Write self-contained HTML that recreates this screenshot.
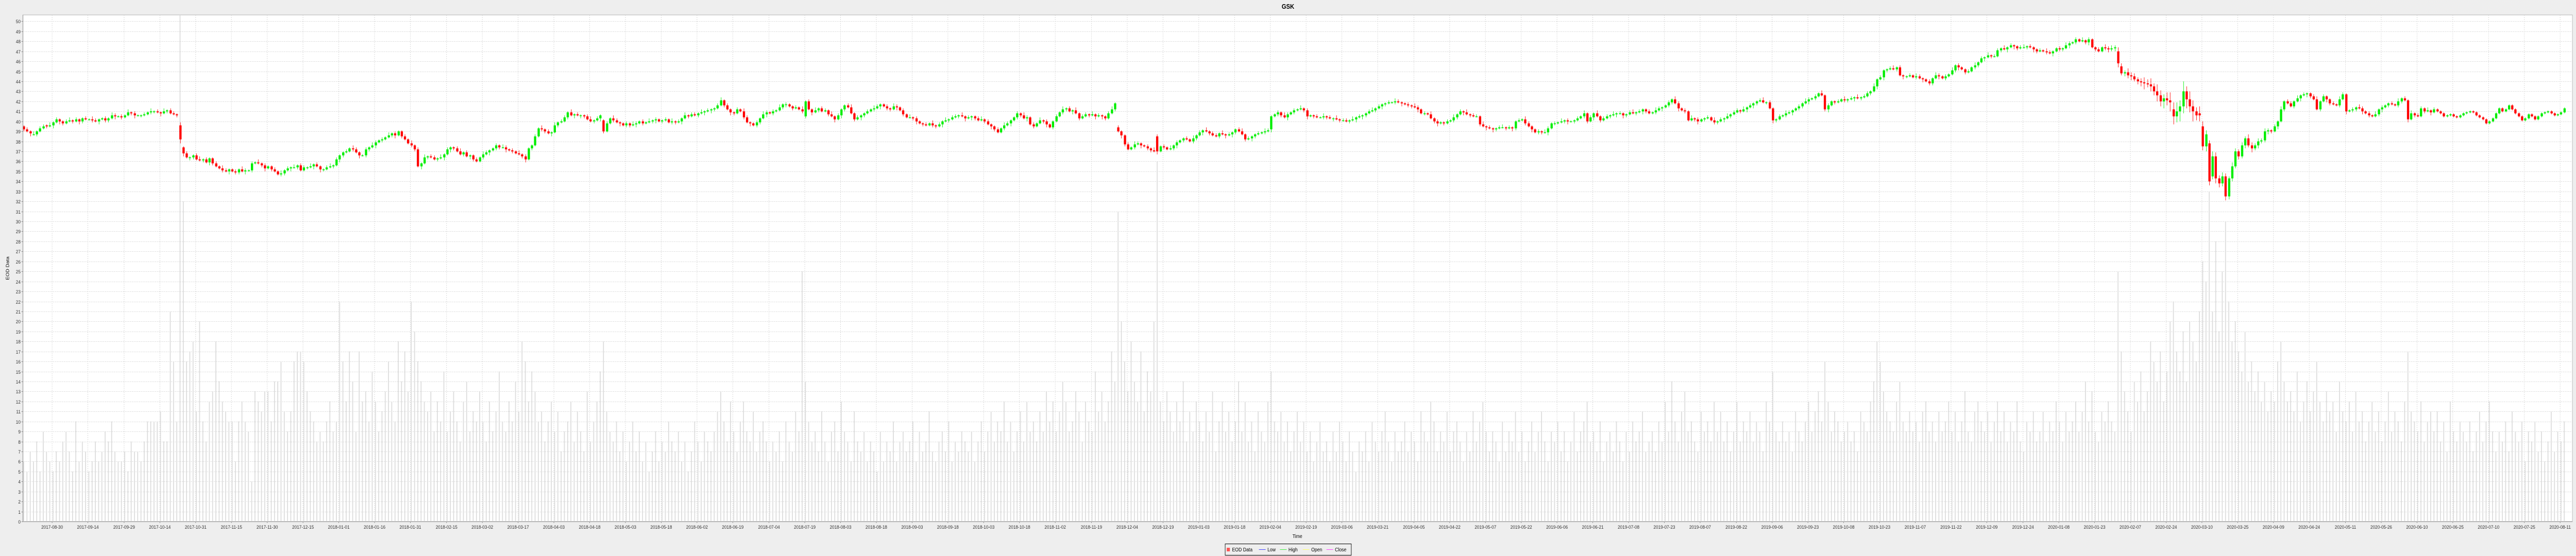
<!DOCTYPE html>
<html><head><meta charset="utf-8"><title>GSK</title>
<style>
html,body{margin:0;padding:0;background:#eeeeee;width:100%;height:100%;overflow:hidden;}
svg{display:block;position:absolute;left:0;top:0;width:100vw;height:100vh;font-family:"Liberation Sans",Arial,sans-serif;}
</style></head>
<body>
<svg id="chart" xmlns="http://www.w3.org/2000/svg" viewBox="0 0 5760 1080" preserveAspectRatio="none">
<rect x="0" y="0" width="5760" height="1080" fill="#eeeeee"/>
<text x="2880" y="17" text-anchor="middle" font-size="13" font-weight="bold" fill="#000">GSK</text>
<rect x="51" y="29" width="5701" height="984" fill="#ffffff" stroke="#b4b4b4" stroke-width="1"/>
<g id="grid"></g>
<g id="vol"></g>
<g id="candles"></g>
<g id="axes"></g>
<text x="20" y="521" text-anchor="middle" font-size="10" fill="#000" transform="rotate(-90 20 521)">EOD Data</text>
<text x="2901" y="1045" text-anchor="middle" font-size="10" fill="#000">Time</text>
<g>
<rect x="2739.5" y="1056.5" width="282" height="22" fill="#eeeeee" stroke="#000" stroke-width="1"/>
<rect x="2743" y="1064" width="7" height="7" fill="#ff5555"/>
<text x="2755" y="1071" font-size="10">EOD Data</text>
<line x1="2815" y1="1067.5" x2="2830" y2="1067.5" stroke="#4444ff"/>
<text x="2834" y="1071" font-size="10">Low</text>
<line x1="2862" y1="1067.5" x2="2877" y2="1067.5" stroke="#44ee44"/>
<text x="2881" y="1071" font-size="10">High</text>
<line x1="2913" y1="1067.5" x2="2928" y2="1067.5" stroke="#ffff66"/>
<text x="2932" y="1071" font-size="10">Open</text>
<line x1="2966" y1="1067.5" x2="2981" y2="1067.5" stroke="#ff44ff"/>
<text x="2985" y="1071" font-size="10">Close</text>
</g>
</svg>
<script>
const closes=[
39.2,39.0,38.8,38.7,39.0,39.3,39.5,39.5,39.6,39.9,
40.2,40.0,39.8,40.0,40.1,40.0,40.2,40.0,40.3,40.2,
40.2,40.1,40.0,40.2,40.3,40.1,40.3,40.6,40.5,40.5,
40.4,40.6,40.9,40.8,40.6,40.6,40.6,40.7,40.9,41.0,
41.0,40.9,40.8,41.0,41.1,40.8,40.7,40.6,38.2,36.8,
36.4,36.4,36.6,36.2,36.1,36.2,35.9,36.3,35.8,35.5,
35.3,35.1,35.0,35.2,35.0,34.9,35.2,35.0,35.1,35.1,
35.8,35.9,35.8,35.6,35.3,35.5,35.2,35.0,34.7,34.8,
35.1,35.3,35.4,35.4,35.6,35.1,35.4,35.4,35.5,35.7,
35.5,35.2,35.2,35.4,35.5,35.6,36.2,36.6,36.9,37.0,
37.3,37.2,36.9,36.6,36.6,37.2,37.4,37.6,37.9,38.1,
38.2,38.4,38.6,38.8,38.6,39.0,38.5,38.2,37.8,37.6,
37.2,35.5,35.8,36.4,36.5,36.4,36.2,36.3,36.4,36.7,
37.2,37.4,37.3,37.0,36.7,36.9,36.5,36.6,36.2,36.0,
36.4,36.7,36.9,37.1,37.3,37.6,37.4,37.4,37.2,37.1,
37.0,36.8,36.7,36.5,36.2,37.3,37.6,38.5,39.3,39.2,
39.0,38.8,38.9,39.6,39.9,40.0,40.4,40.9,40.6,40.7,
40.6,40.6,40.5,40.2,40.0,40.1,40.3,40.6,39.0,39.8,
40.3,40.1,39.9,39.8,39.6,39.8,39.6,39.7,39.8,40.0,
39.8,39.9,40.0,40.1,40.2,40.0,40.1,40.2,39.9,40.0,
39.9,40.0,40.3,40.6,40.5,40.7,40.6,40.8,40.9,41.0,
41.1,41.2,41.3,41.6,42.1,41.6,41.2,40.9,40.8,41.2,
41.0,40.4,39.9,39.8,39.6,39.9,40.3,40.7,40.9,40.8,
41.0,41.1,41.4,41.7,41.7,41.5,41.3,41.4,41.2,41.0,
42.0,41.2,40.9,41.1,41.3,41.0,41.1,40.7,40.5,40.2,
40.6,41.2,41.6,41.4,40.8,40.2,40.4,40.6,40.8,41.0,
41.2,41.3,41.5,41.7,41.5,41.3,41.2,41.5,41.4,41.1,
40.7,40.4,40.4,40.3,40.0,39.8,39.7,39.6,39.8,39.6,
39.5,39.7,40.0,40.1,40.2,40.4,40.5,40.6,40.5,40.3,
40.4,40.5,40.3,40.1,40.2,40.0,39.7,39.5,39.2,38.9,
39.3,39.6,39.8,40.1,40.4,40.8,40.6,40.3,40.4,39.7,
39.5,39.8,40.1,40.0,39.7,39.4,40.0,40.5,40.9,41.2,
41.3,41.0,41.1,40.8,40.3,40.5,40.7,40.6,40.7,40.5,
40.6,40.5,40.3,40.8,41.2,41.8,39.0,38.6,37.7,37.2,
37.4,37.7,37.8,37.6,37.5,37.3,37.1,37.0,37.0,37.5,
37.4,37.2,37.3,37.6,37.9,38.1,38.3,38.2,38.0,38.3,
38.6,38.9,39.1,39.0,38.8,38.6,38.5,38.8,38.7,38.6,
38.7,38.9,39.2,39.0,38.7,38.2,38.3,38.5,38.7,38.8,
38.9,39.0,39.1,40.5,40.7,40.9,40.6,40.4,40.7,40.9,
41.1,41.2,41.3,41.1,40.5,40.6,40.5,40.4,40.4,40.5,
40.4,40.3,40.3,40.2,40.1,40.1,40.0,40.1,40.2,40.4,
40.5,40.6,40.8,41.0,41.1,41.3,41.5,41.7,41.8,41.9,
41.9,42.0,41.9,41.8,41.7,41.6,41.5,41.4,41.2,40.8,
40.8,40.7,40.3,40.0,39.8,39.9,39.8,40.0,40.1,40.4,
40.7,41.0,40.9,40.7,40.6,40.5,40.5,39.7,39.5,39.4,
39.3,39.2,39.3,39.4,39.4,39.3,39.4,39.3,40.0,40.1,
40.2,39.8,39.5,39.2,38.9,39.0,38.9,38.9,39.3,39.8,
39.8,39.9,40.0,40.1,40.0,40.0,40.1,40.3,40.5,40.8,
40.0,40.4,40.8,40.5,40.1,40.3,40.5,40.6,40.7,40.8,
40.8,40.6,40.7,40.9,40.8,40.9,41.0,41.2,41.0,40.8,
40.9,41.1,41.3,41.4,41.6,41.9,42.2,41.8,41.3,41.1,
41.0,40.1,40.3,40.2,40.0,40.2,40.3,40.4,40.1,39.9,
40.0,40.2,40.3,40.5,40.7,40.9,41.1,41.0,41.2,41.4,
41.6,41.8,42.0,42.1,41.9,41.9,41.3,40.1,40.2,40.5,
40.6,40.8,40.9,41.1,41.3,41.5,41.8,42.0,42.2,42.3,
42.5,42.8,42.6,41.2,41.6,42.0,41.9,42.0,42.2,42.1,
42.2,42.3,42.4,42.3,42.4,42.5,42.8,43.0,43.5,44.2,
44.4,45.1,45.2,45.3,45.2,45.4,44.6,44.5,44.5,44.6,
44.4,44.5,44.3,44.2,44.0,43.8,44.3,44.6,44.5,44.3,
44.5,44.7,45.1,45.6,45.4,45.2,44.9,45.0,45.4,45.6,
45.9,46.3,46.4,46.6,46.5,46.5,47.1,47.3,47.2,47.4,
47.6,47.5,47.3,47.4,47.4,47.5,47.4,47.2,47.0,47.1,
47.0,46.9,46.8,47.0,47.3,47.2,47.3,47.6,47.8,47.9,
48.2,48.0,48.1,47.9,48.2,47.4,47.2,47.0,47.4,47.3,
47.2,47.3,47.4,45.8,44.8,44.9,44.6,44.5,44.2,44.0,
43.9,43.8,43.7,43.5,43.0,42.6,42.0,42.3,42.1,41.9,
40.5,41.0,41.5,43.0,42.2,41.5,41.0,40.6,40.6,37.5,
38.7,34.0,36.5,34.3,33.8,34.5,32.5,34.3,35.5,37.0,
36.5,37.6,38.3,37.6,37.3,37.6,38.0,38.1,39.0,39.1,
39.0,39.5,40.0,41.2,42.0,41.8,41.5,42.0,42.3,42.6,
42.7,42.8,42.5,42.2,41.2,42.0,42.5,42.2,41.8,41.7,
41.6,42.2,42.7,41.0,41.1,41.2,41.4,41.3,41.0,40.8,
40.6,40.5,40.7,41.2,41.4,41.6,41.8,41.7,41.6,42.0,
42.3,42.1,40.2,40.8,40.6,40.5,41.3,41.0,41.1,40.9,
41.2,41.0,40.8,40.5,40.6,40.7,40.5,40.4,40.6,40.8,
40.9,41.0,40.9,40.6,40.4,40.2,39.8,40.0,40.3,40.8,
41.3,41.0,41.2,41.6,41.2,40.8,40.5,40.1,40.3,40.7,
40.5,40.2,40.5,40.8,40.9,41.0,40.8,40.6,40.7,40.9,
41.3];
const opens=[
39.5,39.2,39.0,38.7,38.7,39.0,39.3,39.6,39.5,39.6,
39.9,40.2,40.0,39.8,40.0,40.1,40.0,40.2,40.0,40.3,
40.2,40.2,40.1,40.0,40.2,40.3,40.1,40.3,40.6,40.5,
40.5,40.4,40.6,40.9,40.8,40.6,40.6,40.6,40.7,40.9,
41.0,41.0,40.9,40.8,41.0,41.1,40.8,40.7,39.6,37.4,
36.8,36.4,36.4,36.6,36.2,36.1,36.2,35.9,36.3,35.8,
35.5,35.3,35.1,35.0,35.2,35.0,34.9,35.2,35.0,35.1,
35.1,35.8,35.9,35.8,35.6,35.3,35.5,35.2,35.0,34.7,
34.8,35.1,35.3,35.4,35.4,35.6,35.1,35.4,35.4,35.5,
35.7,35.5,35.2,35.2,35.4,35.5,35.6,36.2,36.6,36.9,
37.0,37.3,37.2,36.9,36.6,36.6,37.2,37.4,37.6,37.9,
38.1,38.2,38.4,38.6,38.8,38.6,39.0,38.5,38.2,37.8,
37.6,37.2,35.5,35.8,36.4,36.5,36.4,36.2,36.3,36.4,
36.7,37.2,37.4,37.3,37.0,36.7,36.9,36.5,36.6,36.2,
36.0,36.4,36.7,36.9,37.1,37.3,37.6,37.4,37.4,37.2,
37.1,37.0,36.8,36.7,36.5,36.2,37.3,37.6,38.5,39.3,
39.2,39.0,38.8,38.9,39.6,39.9,40.0,40.4,40.9,40.6,
40.7,40.6,40.6,40.5,40.2,40.0,40.1,40.3,40.1,39.0,
39.8,40.3,40.1,39.9,39.8,39.6,39.8,39.6,39.7,39.8,
40.0,39.8,39.9,40.0,40.1,40.2,40.0,40.1,40.2,39.9,
40.0,39.9,40.0,40.3,40.6,40.5,40.7,40.6,40.8,40.9,
41.0,41.1,41.2,41.3,41.6,42.1,41.6,41.2,40.9,40.8,
41.2,41.0,40.4,39.9,39.8,39.6,39.9,40.3,40.7,40.9,
40.8,41.0,41.1,41.4,41.7,41.7,41.5,41.3,41.4,41.2,
40.5,42.0,41.2,40.9,41.1,41.3,41.0,41.1,40.7,40.5,
40.2,40.6,41.2,41.6,41.4,40.8,40.2,40.4,40.6,40.8,
41.0,41.2,41.3,41.5,41.7,41.5,41.3,41.2,41.5,41.4,
41.1,40.7,40.4,40.4,40.3,40.0,39.8,39.7,39.6,39.8,
39.6,39.5,39.7,40.0,40.1,40.2,40.4,40.5,40.6,40.5,
40.3,40.4,40.5,40.3,40.1,40.2,40.0,39.7,39.5,39.2,
38.9,39.3,39.6,39.8,40.1,40.4,40.8,40.6,40.3,40.4,
39.7,39.5,39.8,40.1,40.0,39.7,39.4,40.0,40.5,40.9,
41.2,41.3,41.0,41.1,40.8,40.3,40.5,40.7,40.6,40.7,
40.5,40.6,40.5,40.3,40.8,41.2,39.4,39.0,38.6,37.7,
37.2,37.4,37.7,37.8,37.6,37.5,37.3,37.1,38.5,37.0,
37.5,37.4,37.2,37.3,37.6,37.9,38.1,38.3,38.2,38.0,
38.3,38.6,38.9,39.1,39.0,38.8,38.6,38.5,38.8,38.7,
38.6,38.7,38.9,39.2,39.0,38.7,38.2,38.3,38.5,38.7,
38.8,38.9,39.0,39.2,40.5,40.7,40.9,40.6,40.4,40.7,
40.9,41.1,41.2,41.3,41.1,40.5,40.6,40.5,40.4,40.4,
40.5,40.4,40.3,40.3,40.2,40.1,40.1,40.0,40.1,40.2,
40.4,40.5,40.6,40.8,41.0,41.1,41.3,41.5,41.7,41.8,
41.9,41.9,42.0,41.9,41.8,41.7,41.6,41.5,41.4,41.2,
40.8,40.8,40.7,40.3,40.0,39.8,39.9,39.8,40.0,40.1,
40.4,40.7,41.0,40.9,40.7,40.6,40.5,40.5,39.7,39.5,
39.4,39.3,39.2,39.3,39.4,39.4,39.3,39.4,39.3,40.0,
40.1,40.2,39.8,39.5,39.2,38.9,39.0,38.9,38.9,39.3,
39.8,39.8,39.9,40.0,40.1,40.0,40.0,40.1,40.3,40.5,
40.8,40.0,40.4,40.8,40.5,40.1,40.3,40.5,40.6,40.7,
40.8,40.8,40.6,40.7,40.9,40.8,40.9,41.0,41.2,41.0,
40.8,40.9,41.1,41.3,41.4,41.6,41.9,42.2,41.8,41.3,
41.1,41.0,40.1,40.3,40.2,40.0,40.2,40.3,40.4,40.1,
39.9,40.0,40.2,40.3,40.5,40.7,40.9,41.1,41.0,41.2,
41.4,41.6,41.8,42.0,42.1,41.9,41.9,41.3,40.1,40.2,
40.5,40.6,40.8,40.9,41.1,41.3,41.5,41.8,42.0,42.2,
42.3,42.5,42.8,42.6,41.2,41.6,42.0,41.9,42.0,42.2,
42.1,42.2,42.3,42.4,42.3,42.4,42.5,42.8,43.0,43.5,
44.2,44.4,45.1,45.2,45.3,45.2,45.4,44.6,44.5,44.5,
44.6,44.4,44.5,44.3,44.2,44.0,43.8,44.3,44.6,44.5,
44.3,44.5,44.7,45.1,45.6,45.4,45.2,44.9,45.0,45.4,
45.6,45.9,46.3,46.4,46.6,46.5,46.5,47.1,47.3,47.2,
47.4,47.6,47.5,47.3,47.4,47.4,47.5,47.4,47.2,47.0,
47.1,47.0,46.9,46.8,47.0,47.3,47.2,47.3,47.6,47.8,
47.9,48.2,48.0,48.1,47.9,48.2,47.4,47.2,47.0,47.4,
47.3,47.2,47.3,47.0,45.5,44.8,44.9,44.6,44.5,44.2,
44.0,43.9,43.8,43.7,43.5,43.0,42.6,42.0,42.3,42.1,
41.2,40.5,41.0,41.5,43.0,42.2,41.5,41.0,40.8,39.5,
37.5,37.8,34.5,36.5,34.3,33.8,34.5,32.5,34.3,35.5,
37.0,36.5,37.6,38.3,37.6,37.3,37.6,38.0,38.1,39.0,
39.1,39.0,39.5,40.0,41.2,42.0,41.8,41.5,42.0,42.3,
42.6,42.7,42.8,42.5,42.2,41.2,42.0,42.5,42.2,41.8,
41.7,41.6,42.2,42.7,41.0,41.1,41.2,41.4,41.3,41.0,
40.8,40.6,40.5,40.7,41.2,41.4,41.6,41.8,41.7,41.6,
42.0,42.3,42.1,40.2,40.8,40.6,40.5,41.3,41.0,41.1,
40.9,41.2,41.0,40.8,40.5,40.6,40.7,40.5,40.4,40.6,
40.8,40.9,41.0,40.9,40.6,40.4,40.2,39.8,40.0,40.3,
40.8,41.3,41.0,41.2,41.6,41.2,40.8,40.5,40.1,40.3,
40.7,40.5,40.2,40.5,40.8,40.9,41.0,40.8,40.6,40.7,
40.9];
// upper / lower wick lengths, in tenths of a dollar
const wickUp=[
1,2,1,3,1,2,2,1,3,1, 2,1,1,2,3,1,2,1,1,2, 1,3,2,1,1,2,1,3,2,1, 2,1,3,1,2,1,1,2,1,3,
1,2,1,3,1,2,2,1,3,1, 2,1,1,2,3,1,2,1,1,2, 1,3,2,1,1,2,1,3,2,1, 2,1,3,1,2,1,1,2,1,3,
1,2,1,3,1,2,2,1,3,1, 2,1,1,2,3,1,2,1,1,2, 1,3,2,1,1,2,1,3,2,1, 2,1,3,1,2,1,1,2,1,3,
1,2,1,3,1,2,2,1,3,1, 2,1,1,2,3,1,2,1,1,2, 1,3,2,1,1,2,1,3,2,1, 2,1,3,1,2,1,1,2,1,3,
1,2,1,3,1,2,2,1,3,1, 2,1,1,2,3,1,2,1,1,2, 1,3,2,1,1,2,1,3,2,1, 2,1,3,1,2,1,1,2,1,3,
1,2,1,3,1,2,2,1,3,1, 2,1,1,2,3,1,2,1,1,2, 1,3,2,1,1,2,1,3,2,1, 2,1,3,1,2,1,1,2,1,3,
1,2,1,3,1,2,2,1,3,1, 2,1,1,2,3,1,2,1,1,2, 1,3,2,1,1,2,1,3,2,1, 2,1,3,1,2,1,1,2,1,3,
1,2,1,3,1,2,2,1,3,1, 2,1,1,2,3,1,2,1,1,2, 1,3,2,1,1,2,1,3,2,1, 2,1,3,1,2,1,1,2,1,3,
1,2,1,3,1,2,2,1,3,1, 2,1,1,2,3,1,2,1,1,2, 1,3,2,1,1,2,1,3,2,1, 2,1,3,1,2,1,1,2,1,3,
1,2,1,3,1,2,2,1,3,1, 2,1,1,2,3,1,2,1,1,2, 1,3,2,1,1,2,1,3,2,1, 2,1,3,1,2,1,1,2,1,3,
1,2,1,3,1,2,2,1,3,1, 2,1,1,2,3,1,2,1,1,2, 1,3,2,1,1,2,1,3,2,1, 2,1,3,1,2,1,1,2,1,3,
1,2,1,3,1,2,2,1,3,1, 2,1,1,2,3,1,2,1,1,2, 1,3,2,1,1,2,1,3,2,1, 2,1,3,1,2,1,1,2,1,3,
1,2,1,3,1,2,2,1,3,1, 2,1,1,2,3,1,2,1,1,2, 1,3,2,1,1,2,1,3,2,1, 2,1,3,1,2,1,1,2,1,3,
1,2,1,3,1,2,2,1,3,1, 2,1,1,2,3,1,2,1,1,2, 1,3,2,1,1,2,1,3,2,1, 2,1,3,1,2,1,1,2,1,3,
1,2,1,3,1,2,2,1,3,1, 2,1,1,2,3,1,2,1,1,2, 1,3,2,1,1,2,1,3,2,1, 2,1,3,1,2,1,1,2,1,3,
1,2,1,3,1,2,2,1,3,1, 2,1,1,2,3,1,2,1,1,2, 1,3,2,1,1,2,1,3,2,1, 2,1,3,1,2,1,1,2,1,3,
2,3,2,4,3,2,4,3,3,2, 3,5,4,6,3,7,5,4,6,8, 7,9,6,10,5,8,6,4,7,5, 4,3,5,4,3,4,3,2,4,3,
2,3,2,4,3,2,3,2,3,2, 1,2,1,3,1,2,2,1,3,1, 2,1,1,2,3,1,2,1,1,2, 1,3,2,1,1,2,1,3,2,1,
2,1,3,1,2,1,1,2,1,3, 1,2,1,3,1,2,2,1,3,1, 2];
const wickDn=[
2,1,3,1,2,1,1,2,1,3, 1,3,2,1,1,2,1,3,2,1, 1,2,1,3,1,2,2,1,3,1, 2,1,1,2,3,1,2,1,1,2,
2,1,3,1,2,1,1,2,4,3, 1,3,2,1,1,2,1,3,2,1, 1,2,1,3,1,2,2,1,3,1, 2,1,1,2,3,1,2,1,1,2,
2,1,3,1,2,1,1,2,1,3, 1,3,2,1,1,2,1,3,2,1, 1,2,1,3,1,2,2,1,3,1, 2,1,1,2,3,1,2,1,1,2,
2,1,3,1,2,1,1,2,1,3, 1,3,2,1,1,2,1,3,2,1, 1,2,1,3,1,2,2,1,3,1, 2,1,1,2,3,1,2,1,1,2,
2,1,3,1,2,1,1,2,1,3, 1,3,2,1,1,2,1,3,2,1, 1,2,1,3,1,2,2,1,3,1, 2,1,1,2,3,1,2,1,1,2,
2,1,3,1,2,1,1,2,1,3, 1,3,2,1,1,2,1,3,2,1, 1,2,1,3,1,2,2,1,3,1, 2,1,1,2,3,1,2,1,1,2,
2,1,3,1,2,1,1,2,1,3, 1,3,2,1,1,2,1,3,2,1, 1,2,1,3,1,2,2,1,3,1, 2,1,1,2,3,1,2,1,1,2,
2,1,3,1,2,1,1,2,1,3, 1,3,2,1,1,2,1,3,2,1, 1,2,1,3,1,2,2,1,3,1, 2,1,1,2,3,1,2,1,1,2,
2,1,3,1,2,1,1,2,1,3, 1,3,2,1,1,2,1,3,2,1, 1,2,1,3,1,2,2,1,3,1, 2,1,1,2,3,1,2,1,1,2,
2,1,3,1,2,1,1,2,1,3, 1,3,2,1,1,2,1,3,2,1, 1,2,1,3,1,2,2,1,3,1, 2,1,1,2,3,1,2,1,1,2,
2,1,3,1,2,1,1,2,1,3, 1,3,2,1,1,2,1,3,2,1, 1,2,1,3,1,2,2,1,3,1, 2,1,1,2,3,1,2,1,1,2,
2,1,3,1,2,1,1,2,1,3, 1,3,2,1,1,2,1,3,2,1, 1,2,1,3,1,2,2,1,3,1, 2,1,1,2,3,1,2,1,1,2,
2,1,3,1,2,1,1,2,1,3, 1,3,2,1,1,2,1,3,2,1, 1,2,1,3,1,2,2,1,3,1, 2,1,1,2,3,1,2,1,1,2,
2,1,3,1,2,1,1,2,1,3, 1,3,2,1,1,2,1,3,2,1, 1,2,1,3,1,2,2,1,3,1, 2,1,1,2,3,1,2,1,1,2,
2,1,3,1,2,1,1,2,1,3, 1,3,2,1,1,2,1,3,2,1, 1,2,1,3,1,2,2,1,3,1, 2,1,1,2,3,1,2,1,1,2,
2,1,3,1,2,1,1,2,1,3, 1,3,2,1,1,2,1,3,2,1, 1,2,1,3,1,2,2,1,3,1, 2,1,1,2,3,1,2,1,1,2,
3,2,3,4,2,3,3,4,2,3, 4,6,3,5,4,6,5,7,5,9, 8,6,10,7,9,6,10,5,6,4, 5,4,3,5,4,3,4,3,3,2,
3,2,3,2,4,2,3,2,2,3, 2,1,3,1,2,1,1,2,1,3, 1,3,2,1,1,2,1,3,2,1, 1,2,1,3,1,2,2,1,3,1,
2,1,1,2,3,1,2,1,1,2, 2,1,3,1,2,1,1,2,1,3, 1];
const volumes=[
6,5,7,6,8,5,9,7,6,5, 7,6,8,9,7,5,10,6,8,7, 5,6,8,6,7,9,8,10,7,6, 6,7,5,8,7,7,6,8,10,10,
10,10,11,8,8,21,16,10,60,32, 16,17,18,11,20,10,8,12,13,18, 14,12,11,10,10,6,10,12,10,9, 4,13,12,11,13,13,10,14,14,16,
11,9,11,16,17,17,16,13,11,10, 8,9,8,10,12,9,10,22,16,12, 17,14,9,17,12,13,10,15,12,9, 11,13,16,12,10,18,14,17,13,22,
19,16,14,12,11,13,9,12,10,15, 9,11,13,10,8,12,14,9,11,10, 13,10,8,12,9,11,15,10,9,12, 10,14,11,18,16,12,15,13,10,11,
8,10,12,9,11,7,9,10,12,8, 11,9,7,13,8,10,12,15,18,11, 9,8,10,7,9,6,8,10,7,9, 6,8,5,7,9,6,8,7,10,8,
7,9,6,8,5,7,10,8,6,9, 8,7,9,11,13,10,8,12,9,7, 10,12,9,8,11,7,9,10,8,6, 8,7,9,6,10,8,7,11,9,25,
14,10,8,9,7,11,8,6,9,10, 7,12,9,8,6,11,8,7,9,6, 8,7,5,9,6,8,7,10,6,8, 9,7,8,10,6,9,7,8,11,7,
6,8,9,7,10,6,8,7,9,8, 7,9,6,8,10,7,9,11,8,10, 9,12,8,10,7,9,11,8,12,9, 10,8,11,9,13,10,12,9,11,14,
12,9,10,13,11,8,12,10,9,15, 11,13,10,12,17,14,31,20,16,13, 18,14,12,17,11,15,13,20,36,12, 10,13,11,9,12,10,14,8,11,9,
12,10,8,11,9,13,7,10,12,9, 11,8,10,14,9,12,8,10,7,11, 9,8,12,15,10,9,11,8,10,7, 9,11,8,10,7,9,6,8,10,7,
8,6,9,7,10,8,6,9,7,5, 8,7,9,6,10,8,7,9,11,8, 6,9,7,8,10,7,9,8,6,11, 9,8,12,10,7,9,8,11,7,9,
10,8,6,9,7,11,8,10,12,9, 7,9,8,6,10,7,9,8,11,7, 9,6,8,10,7,9,11,8,6,9, 8,10,7,9,6,8,11,7,9,10,
12,8,9,7,10,6,8,9,7,10, 8,6,9,7,10,8,9,11,7,8, 9,7,10,8,12,9,14,10,8,11, 13,9,10,8,7,11,9,10,8,12,
9,11,8,10,7,9,12,8,10,9, 11,8,10,9,7,12,10,15,9,8, 10,8,9,7,11,9,8,10,12,9, 11,13,10,16,12,9,11,10,8,9,
10,8,9,7,11,10,9,12,14,18, 16,13,11,10,9,12,14,10,9,11, 9,10,8,11,12,9,10,8,11,9, 10,12,9,11,8,10,13,9,8,11,
12,10,9,11,8,10,12,9,11,8, 10,9,12,8,7,10,9,11,8,9, 11,8,10,9,12,10,8,11,9,10, 12,9,11,14,10,13,9,8,11,10,
12,10,9,25,17,13,11,9,14,12, 15,11,13,18,16,14,17,12,15,20, 22,17,15,19,14,20,18,16,21,26, 24,33,21,28,19,25,30,22,18,20,
17,15,19,14,16,13,15,12,14,11, 13,12,16,18,14,12,13,11,15,10, 12,14,11,13,16,12,10,13,11,12, 9,14,11,10,12,9,13,10,11,8,
10,12,9,11,8,10,13,9,11,10, 8,12,17,11,10,9,12,8,10,11, 9,11,8,10,7,12,9,8,10,9, 8,10,7,9,11,8,10,12,9,7,
9,8,10,7,11,9,8,10,6,9, 8,10,7,9,6,8,11,7,9,8, 10];
const tickLabels=["2017-08-30","2017-09-14","2017-09-29","2017-10-14","2017-10-31","2017-11-15","2017-11-30","2017-12-15","2018-01-01","2018-01-16","2018-01-31","2018-02-15","2018-03-02","2018-03-17","2018-04-03","2018-04-18","2018-05-03","2018-05-18","2018-06-02","2018-06-19","2018-07-04","2018-07-19","2018-08-03","2018-08-18","2018-09-03","2018-09-18","2018-10-03","2018-10-18","2018-11-02","2018-11-19","2018-12-04","2018-12-19","2019-01-03","2019-01-18","2019-02-04","2019-02-19","2019-03-06","2019-03-21","2019-04-05","2019-04-22","2019-05-07","2019-05-22","2019-06-06","2019-06-21","2019-07-08","2019-07-23","2019-08-07","2019-08-22","2019-09-06","2019-09-23","2019-10-08","2019-10-23","2019-11-07","2019-11-22","2019-12-09","2019-12-24","2020-01-08","2020-01-23","2020-02-07","2020-02-24","2020-03-10","2020-03-25","2020-04-09","2020-04-24","2020-05-11","2020-05-26","2020-06-10","2020-06-25","2020-07-10","2020-07-25","2020-08-11"];
const TICK_FIRST_SLOT=8.69, TICK_EVERY_SLOTS=11;

const NS="http://www.w3.org/2000/svg";
const X0=53, SLOT=7.283, PLOT_LEFT=51, PLOT_RIGHT=5752, PLOT_TOP=29, PLOT_BOTTOM=1013, Y_MIN=0, Y_MAX=50.64;
function xScale(i){return X0+SLOT*i;}
function yScale(v){return PLOT_BOTTOM-(v-Y_MIN)/(Y_MAX-Y_MIN)*(PLOT_BOTTOM-PLOT_TOP);}
function mk(tag,attrs,parent){const e=document.createElementNS(NS,tag);for(const k in attrs)e.setAttribute(k,attrs[k]);parent.appendChild(e);return e;}

const grid=document.getElementById('grid'),volG=document.getElementById('vol'),cg=document.getElementById('candles'),axes=document.getElementById('axes');

for(let v=0;v<=50;v++){
  const y=Math.round(yScale(v))+0.5;
  const gl=mk('line',{x1:PLOT_LEFT,x2:PLOT_RIGHT,y1:y,y2:y,stroke:'#d4d4d4','stroke-width':1,'stroke-dasharray':'2,2'},grid);
  
  
  const tk=mk('line',{x1:PLOT_LEFT-3,x2:PLOT_LEFT,y1:y,y2:y,stroke:'#888'},axes);
  
  
  const t=mk('text',{x:PLOT_LEFT-5,y:y+3.5,'text-anchor':'end','font-size':'9.5',fill:'#333'},axes);
  t.textContent=String(v);
  
  
}
tickLabels.forEach((lab,k)=>{
  const x=Math.round(xScale(TICK_FIRST_SLOT+TICK_EVERY_SLOTS*k))+0.5;
  const gl=mk('line',{x1:x,x2:x,y1:PLOT_TOP,y2:PLOT_BOTTOM,stroke:'#d4d4d4','stroke-width':1,'stroke-dasharray':'2,2'},grid);
  
  
  const tk=mk('line',{x1:x,x2:x,y1:PLOT_BOTTOM,y2:PLOT_BOTTOM+3,stroke:'#888'},axes);
  
  
  const t=mk('text',{x:x,y:1027,'text-anchor':'middle','font-size':'9.5',fill:'#333'},axes);
  t.textContent=lab;
  
  
});
const ya=mk('line',{x1:PLOT_LEFT+0.5,x2:PLOT_LEFT+0.5,y1:PLOT_TOP,y2:PLOT_BOTTOM,stroke:'#999','stroke-width':1},axes);


const xa=mk('line',{x1:PLOT_LEFT,x2:PLOT_RIGHT,y1:PLOT_BOTTOM+0.5,y2:PLOT_BOTTOM+0.5,stroke:'#999','stroke-width':1},axes);



volumes.forEach((v,i)=>{
  const x=xScale(i);
  const yTop=Math.max(PLOT_TOP,yScale(v));
  const r=mk('rect',{x:x-1,y:yTop,width:2,height:PLOT_BOTTOM-yTop,fill:'#dcdcdc'},volG);
  
  
});

const N=Math.min(closes.length,opens.length);
for(let i=0;i<N;i++){
  const o=opens[i],c=closes[i];
  const up=c>=o;
  const col=up?'#00ee00':'#ff0000';
  const hi=Math.max(o,c)+(wickUp[i]||1)/10;
  const lo=Math.min(o,c)-(wickDn[i]||1)/10;
  const x=xScale(i);
  const w=mk('rect',{x:Math.round(x),y:yScale(hi),width:1,height:yScale(lo)-yScale(hi),fill:col},cg);
  
  
  const yt=yScale(Math.max(o,c)),yb=yScale(Math.min(o,c));
  const b=mk('rect',{x:Math.round(x)-2,y:yt,width:5,height:Math.max(1.5,yb-yt),fill:col},cg);
  
  
}
</script>
</body></html>
